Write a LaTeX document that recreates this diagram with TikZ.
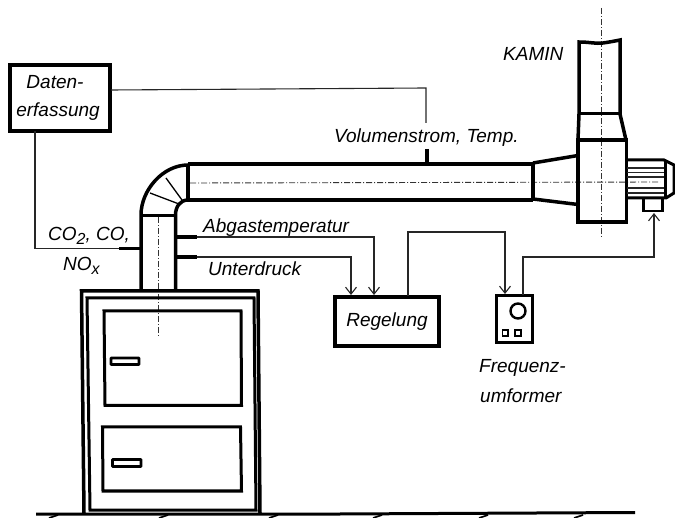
\documentclass[tikz,border=0pt]{standalone}
\usepackage{fontspec}
\setmainfont{Liberation Sans}
\usetikzlibrary{arrows.meta}
\newcommand{\lowsub}[1]{\raisebox{-3.5pt}{\fontsize{16}{18}\selectfont #1}}
\begin{document}
\begin{tikzpicture}[x=1pt,y=-1pt,
  heavy/.style={line width=3.5pt,line join=miter},
  medium/.style={line width=3pt},
  wire/.style={line width=1.1pt,black!85},
  arrowwire/.style={wire,-{Straight Barb[length=7pt,width=11pt,line width=1.1pt]}},
  probe/.style={line width=3.6pt},
  axis/.style={line width=0.9pt,black!80,dash pattern=on 6pt off 2pt on 1pt off 2pt},
  fin/.style={line width=1.1pt,black!85},
  box/.style={draw,line width=3.5pt,inner sep=0pt,align=center,font=\itshape\fontsize{19}{28}\selectfont},
  lab/.style={inner sep=0pt,font=\itshape\fontsize{19}{22}\selectfont}]
\useasboundingbox (0,0) rectangle (675,518);
% axes
\draw[axis] (601,8) -- (601,237);
\draw[axis] (190,183) -- (660,182);
\draw[axis] (158.7,217) -- (158.7,337);
% boxes
\node[box,minimum width=100pt,minimum height=66pt] (daten) at (60,98) {\hspace*{-10pt}Daten-\\\hspace*{-4pt}erfassung};
\node[box,minimum width=104pt,minimum height=49pt] (regel) at (387,321.5) {Regelung};
\node[draw,line width=3.2pt,minimum width=36pt,minimum height=47pt,inner sep=0pt] (freq) at (514.5,319) {};
\draw[line width=2.4pt] (518,311) circle (7.5);
\draw[line width=1.8pt] (502.5,330) rectangle (508,336);
\draw[line width=1.8pt] (515,330) rectangle (521,336);
% chimney
\draw[heavy] (579,114) -- (579,42) .. controls (590,42) and (596,44) .. (603,43) .. controls (610,42) and (615,41) .. (620,40) -- (620,114);
\draw[medium] (579,114) -- (620,114);
\draw[heavy] (579,114) -- (578,140) (620,114) -- (626,140);
\draw[heavy] (578,140) rectangle (626.5,222);
% duct
\draw[heavy] (188,164) -- (533,164) (533,164) -- (533,199);
\draw[heavy] (188,200) -- (533,200);
\draw[heavy] (533,163) -- (578,155.5) (533,199) -- (578,204.5);
% motor
\draw[medium] (627,160) -- (664,160) -- (674,165) -- (674,193) -- (666,198) -- (627,198);
\draw[medium] (665,160) -- (665,197);
\draw[fin] (627,168) -- (664,168) (627,172.5) -- (664,172.5) (627,177) -- (664,177) (627,188) -- (664,188) (627,193) -- (664,193);
\node[draw,line width=2.8pt,minimum width=19pt,minimum height=13pt,inner sep=0pt] (drive) at (653,204.5) {};
% elbow and flue pipe
\draw[heavy] (141,292) -- (141,215) .. controls (141,190) and (163,165) .. (188,165);
\draw[heavy] (175.5,292) -- (175.5,215) .. controls (175.5,207) and (180,200) .. (188,200);
\draw[heavy] (188,164) -- (188,200);
\draw[medium] (141,215.5) -- (175.5,215.5);
\draw[line width=1.3pt] (166,178) -- (182,200) (150,193) -- (179,204);
% boiler
\draw[heavy] (84,513) -- (81.5,291) -- (258,291) -- (260,513);
\draw[medium] (90,510) -- (87,298) -- (254,298) -- (256,510) -- cycle;
\draw[medium] (104,311) -- (241,311) -- (241.5,405.5) -- (105,405.5) -- cycle;
\draw[medium] (102.5,427) -- (240.5,427) -- (241.5,491) -- (103,491) -- cycle;
\draw[line width=2.8pt,rounded corners=0.5pt] (111,358) rectangle (139,364.5);
\draw[line width=2.8pt,rounded corners=0.5pt] (112.5,459.5) rectangle (141,466.5);
% ground
\draw[line width=3pt] (36,514) -- (340,514) -- (635,512.5);
\foreach \gx in {53,163,273,377,483,578}
  \draw[line width=1.6pt] (\gx+5,515) -- (\gx-4,518);
% probes
\coordinate (gasL) at (119,248.5); \coordinate (gasR) at (141,248.5);
\coordinate (temA) at (176,237); \coordinate (temB) at (197,237);
\coordinate (presA) at (176,257); \coordinate (presB) at (197,257);
\coordinate (volA) at (427,149); \coordinate (volB) at (427,163);
\draw[probe] (gasL) -- (gasR) (temA) -- (temB) (presA) -- (presB) (volA) -- (volB);
% wires
\draw[wire] (35,131) -- (35,248.5) -- (gasL);
\draw[wire] (111,90) -- (426,88) -- (426,123);
\draw[arrowwire] (temB) -- (374,237) -- (374,295);
\draw[arrowwire] (presB) -- (351,257) -- (351,295);
\draw[arrowwire] (408,296) -- (408,232) -- (505,232) -- (505,294);
\draw[arrowwire] (523,295) -- (523,257) -- (654,257) -- (654,213);
% labels
\node[lab,anchor=base west] (kamin) at (503,61) {KAMIN};
\node[lab,anchor=base west] (vol) at (334,143) {Volumenstrom, Temp.};
\node[lab,anchor=base west] (co) at (48,241) {CO\lowsub{2}, CO,};
\node[lab,anchor=base west] (nox) at (63,271) {NO\lowsub{x}};
\node[lab,anchor=base west] (abg) at (203,233) {Abgastemperatur};
\node[lab,anchor=base west] (unt) at (208,276) {Unterdruck};
\node[lab,anchor=base west] (fr1) at (479,373) {Frequenz-};
\node[lab,anchor=base west] (fr2) at (480,403) {umformer};
\end{tikzpicture}
\end{document}
